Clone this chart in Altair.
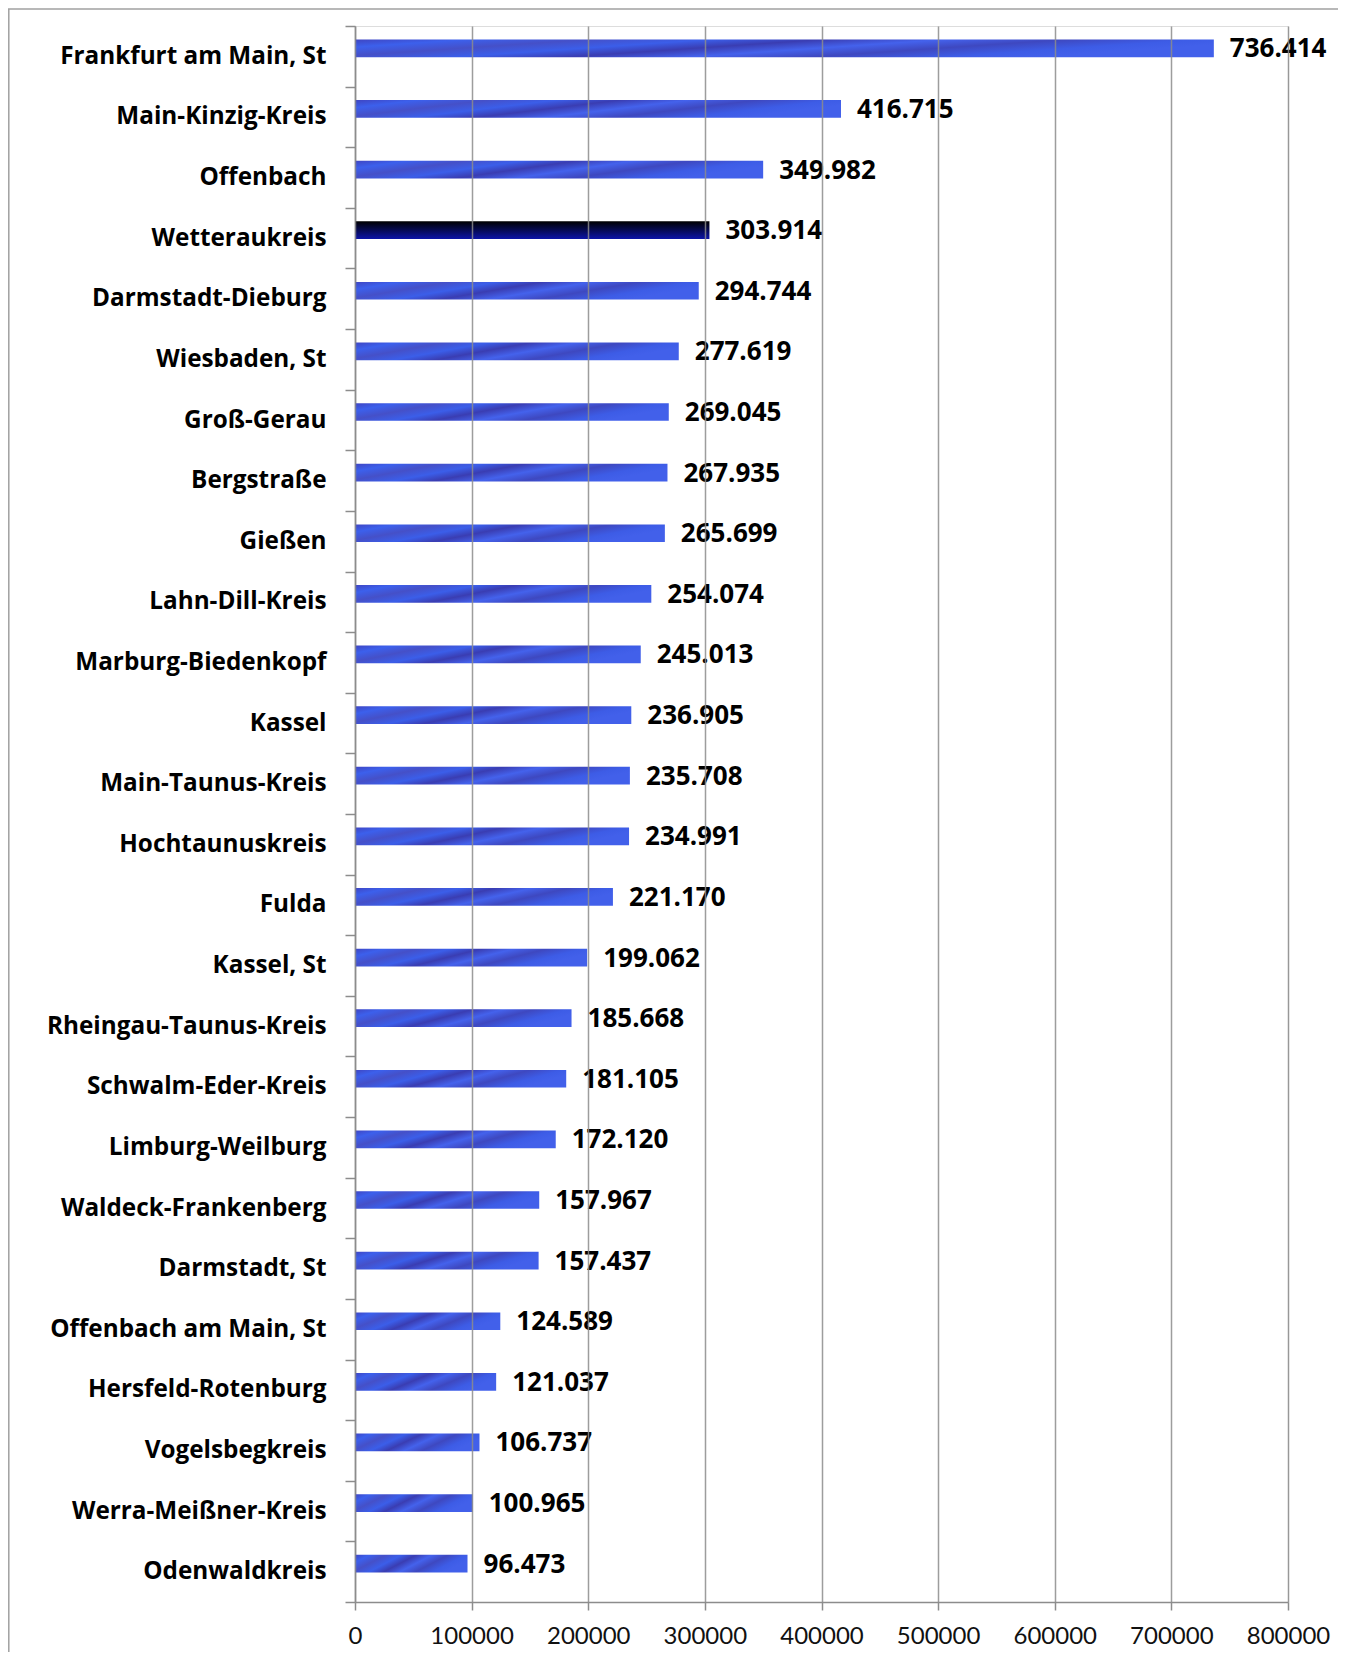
import altair as alt
import pandas as pd

regions = [
    "Frankfurt am Main, St", "Main-Kinzig-Kreis", "Offenbach\u00a0", "Wetteraukreis",
    "Darmstadt-Dieburg", "Wiesbaden, St", "Groß-Gerau", "Bergstraße", "Gießen",
    "Lahn-Dill-Kreis", "Marburg-Biedenkopf", "Kassel", "Main-Taunus-Kreis",
    "Hochtaunuskreis", "Fulda", "Kassel, St", "Rheingau-Taunus-Kreis",
    "Schwalm-Eder-Kreis", "Limburg-Weilburg", "Waldeck-Frankenberg", "Darmstadt, St",
    "Offenbach am Main, St", "Hersfeld-Rotenburg", "Vogelsbegkreis",
    "Werra-Meißner-Kreis", "Odenwaldkreis",
]
population = [
    736414, 416715, 349982, 303914, 294744, 277619, 269045, 267935, 265699,
    254074, 245013, 236905, 235708, 234991, 221170, 199062, 185668, 181105,
    172120, 157967, 157437, 124589, 121037, 106737, 100965, 96473,
]
highlight = "Wetteraukreis"
x_ticks = [0, 100000, 200000, 300000, 400000, 500000, 600000, 700000, 800000]

df = pd.DataFrame({"region": regions, "value": population})
df["label"] = df["value"].map(lambda v: f"{v:,}".replace(",", "."))
df["hl"] = df["region"] == highlight

W, H = 933, 1576
PL, PT, PR, PB = 347, 18, 50, 50

blue_grad = alt.Gradient(
    gradient="linear", x1=0, y1=0, x2=1, y2=0.3,
    stops=[
        alt.GradientStop(offset=0.0, color="#3f45c2"),
        alt.GradientStop(offset=0.12, color="#3c60ec"),
        alt.GradientStop(offset=0.25, color="#4550c8"),
        alt.GradientStop(offset=0.38, color="#3b5ee9"),
        alt.GradientStop(offset=0.5, color="#3a3db2"),
        alt.GradientStop(offset=0.63, color="#4462ec"),
        alt.GradientStop(offset=0.76, color="#3e48c0"),
        alt.GradientStop(offset=0.9, color="#3d5ce6"),
        alt.GradientStop(offset=1.0, color="#4260ea"),
    ],
)
dark_grad = alt.Gradient(
    gradient="linear", x1=0, y1=0, x2=0, y2=1,
    stops=[
        alt.GradientStop(offset=0.0, color="#000000"),
        alt.GradientStop(offset=1.0, color="#0c14a8"),
    ],
)

xscale = alt.Scale(domain=[0, 800000], nice=False)
yscale = alt.Scale(paddingInner=0, paddingOuter=0)

base = alt.Chart(df)

y_enc = alt.Y(
    "region:N", sort=regions, scale=yscale,
    axis=alt.Axis(
        title=None, tickBand="extent", tickSize=10, tickColor="#8c8c8c",
        tickWidth=1.5, domainColor="#8c8c8c", domainWidth=1.5,
        labelFont="Open Sans", labelFontWeight="bold", labelFontSize=24.3,
        labelColor="#000000", labelPadding=19, labelLimit=400, grid=False,
    ),
)
x_enc = alt.X(
    "value:Q", scale=xscale,
    axis=alt.Axis(
        title=None, values=x_ticks, format="d", tickSize=8, tickColor="#8c8c8c",
        tickWidth=1.5, domainColor="#8c8c8c", domainWidth=1.5,
        labelFont="Lato", labelFontSize=24, labelColor="#111111",
        labelPadding=14, grid=True, gridColor="#8c8c8c", gridWidth=1.5,
        gridOpacity=0.85, zindex=1, labelFlush=False,
    ),
)

bars = base.transform_filter("!datum.hl").mark_bar(
    height=17.7, yOffset=-8, color=blue_grad
).encode(x=x_enc, y=y_enc)

hl_bar = base.transform_filter("datum.hl").mark_bar(
    height=17.7, yOffset=-8, color=dark_grad
).encode(x="value:Q", y=alt.Y("region:N", sort=regions))

labels = base.mark_text(
    align="left", baseline="middle", dx=16, yOffset=-7,
    font="Open Sans", fontWeight="bold", fontSize=26, color="#000000",
).encode(x="value:Q", y=alt.Y("region:N", sort=regions), text="label:N")

frame_df = pd.DataFrame({"k": [0]})
left_line = alt.Chart(frame_df).mark_rule(color="#a0a0a0", strokeWidth=1.5).encode(
    x=alt.value(-346.2), y=alt.value(-17), y2=alt.value(H + PB)
)
top_line = alt.Chart(frame_df).mark_rule(color="#a0a0a0", strokeWidth=1.5).encode(
    x=alt.value(-347), x2=alt.value(W + PR), y=alt.value(-17)
)

chart = alt.layer(bars, hl_bar, labels, left_line, top_line).properties(
    width=W, height=H,
    autosize=alt.AutoSizeParams(type="none"),
    padding={"left": PL, "top": PT, "right": PR, "bottom": PB},
).configure_view(stroke=None).configure(background="white")

chart.save("out.html", embed_options={"renderer": "svg", "actions": False})
